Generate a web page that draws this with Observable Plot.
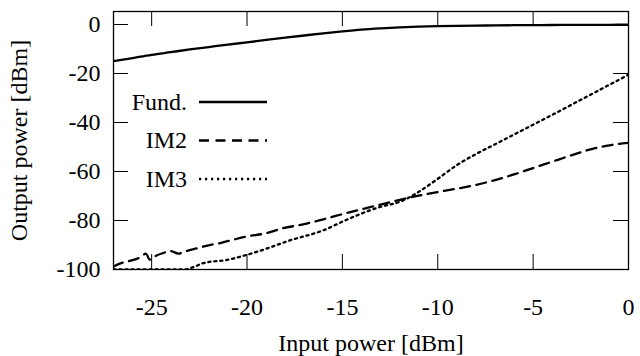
<!DOCTYPE html>
<html>
<head>
<meta charset="utf-8">
<script src="https://cdn.jsdelivr.net/npm/d3@7"></script>
<script src="https://cdn.jsdelivr.net/npm/@observablehq/plot@0.6"></script>
<style>
  html, body { margin: 0; padding: 0; background: #fff; }
  #chart { width: 640px; height: 356px; }
  #chart svg, #chart svg text { font-family: "Liberation Serif", "Times New Roman", serif !important; }
</style>
</head>
<body>
<div id="chart"></div>
<script>
// ---- data ----
const fundX = [-27,-26,-25,-24,-23,-22,-21,-20,-19,-18,-17,-16,-15,-14,-13,-12,-11,-10,-9,-8,-7,-6,-5,-4,-3,-2,-1,0];
const fundY = [-15.0,-13.7,-12.4,-11.3,-10.2,-9.2,-8.2,-7.3,-6.3,-5.4,-4.5,-3.6,-2.8,-2.1,-1.6,-1.2,-0.9,-0.7,-0.55,-0.45,-0.38,-0.3,-0.25,-0.2,-0.17,-0.14,-0.12,-0.1];

const im2X = [-27,-26.6,-26.1,-25.6,-25.3,-25.1,-24.8,-24.4,-24.0,-23.6,-23.2,-22.6,-21.9,-21.4,-20.7,-20,-19,-18.2,-17,-16,-14.75,-13,-11.4,-10,-9,-8,-7,-6,-5,-4,-3,-2,-1,0];
const im2Y = [-98.8,-97.4,-96.4,-95,-93.5,-96,-94.5,-93.3,-92.5,-93.5,-92.5,-91.3,-89.9,-89.2,-87.8,-86.5,-85.2,-83.3,-81.5,-79.5,-76.9,-73.5,-70.5,-68.4,-67.0,-65.5,-63.5,-61.2,-58.6,-56.0,-53.4,-51.0,-49.3,-48.3];

const im3X = [-27,-26,-25,-24,-23.3,-22.8,-22.3,-21,-20,-18.9,-17.9,-16,-14.75,-13,-12,-11.5,-11,-10,-9,-8,-7,-6,-5,-4,-3,-2,-1,0];
const im3Y = [-100,-100,-100,-100,-100,-99,-97.4,-96,-94,-91.3,-88.5,-84,-79.6,-74.4,-72.4,-70.6,-68.3,-63.0,-57.4,-52.9,-48.9,-44.9,-40.9,-36.9,-32.8,-28.7,-24.6,-20.5];

const xTicks = [-25,-20,-15,-10,-5,0];
const yTicks = [0,-20,-40,-60,-80,-100];
const xInnerTicks = [-25,-20,-15,-10,-5];
const yInnerTicks = [0,-20,-40,-60,-80];

const seriesNames = ["Fund.","IM2","IM3"];
const xLabel = "Input power [dBm]";
const yLabel = "Output power [dBm]";

const toRows = (xs, ys) => xs.map((x, i) => ({x, y: ys[i]}));
const fund = toRows(fundX, fundY);
const im2 = toRows(im2X, im2Y);
const im3 = toRows(im3X, im3Y);

// ---- layout ----
const W = 640, H = 356;
const mL = 113, mR = 12, mT = 11, mB = 87;
const innerW = W - mL - mR, innerH = H - mT - mB;
const tick = 15;
const FONT = "'Liberation Serif', 'Times New Roman', serif";
const FS = 24;
const fmt = d => String(d);

const dashes = ["none", "10,6.5", "2.2,3.8"];

const plot = Plot.plot({
  width: W, height: H,
  marginLeft: mL, marginRight: mR, marginTop: mT, marginBottom: mB,
  style: {fontFamily: FONT, fontSize: FS + "px", color: "#000", background: "#fff"},
  x: {domain: [-27, 0]},
  y: {domain: [-100, 5.3]},
  marks: [
    Plot.ruleX(xInnerTicks, {stroke: "#000", strokeWidth: 1, insetTop: innerH - tick}),
    Plot.ruleX(xInnerTicks, {stroke: "#000", strokeWidth: 1, insetBottom: innerH - tick}),
    Plot.ruleY(yInnerTicks, {stroke: "#000", strokeWidth: 1, insetRight: innerW - tick}),
    Plot.ruleY(yInnerTicks.slice(1), {stroke: "#000", strokeWidth: 1, insetLeft: innerW - tick}),
    Plot.line(fund, {x: "x", y: "y", stroke: "#000", strokeWidth: 2.3, curve: "monotone-x", clip: true}),
    Plot.line(im2, {x: "x", y: "y", stroke: "#000", strokeWidth: 2.3, strokeDasharray: dashes[1], curve: "monotone-x", clip: true}),
    Plot.line(im3, {x: "x", y: "y", stroke: "#000", strokeWidth: 2.3, strokeDasharray: dashes[2], curve: "monotone-x", clip: true}),
    Plot.frame({stroke: "#000", strokeWidth: 1.3}),
    Plot.axisX({ticks: xTicks, tickSize: 0, tickPadding: 28, tickFormat: fmt, fontSize: FS, label: null}),
    Plot.axisY({ticks: yTicks, tickSize: 0, tickPadding: 13, tickFormat: fmt, fontSize: FS, label: null}),
    Plot.text([xLabel], {frameAnchor: "bottom", lineAnchor: "middle", textAnchor: "middle", dy: 74, fontSize: FS, fill: "#000"}),
    Plot.text([yLabel], {frameAnchor: "left", lineAnchor: "middle", textAnchor: "middle", dx: -94, rotate: -90, fontSize: FS, fill: "#000"})
  ]
});

document.getElementById("chart").appendChild(plot);

// ---- legend (inside plot area) ----
const svg = d3.select(plot);
const lg = svg.append("g").attr("font-family", FONT).attr("font-size", FS);
const legTextRight = 187, legX1 = 199, legX2 = 267, legY0 = 102, legStep = 38.5;
seriesNames.forEach((name, i) => {
  const y = legY0 + i * legStep;
  lg.append("text").attr("x", legTextRight).attr("y", y).attr("dy", "0.32em")
    .attr("text-anchor", "end").attr("fill", "#000").text(name);
  lg.append("line").attr("x1", legX1).attr("x2", legX2).attr("y1", y).attr("y2", y)
    .attr("stroke", "#000").attr("stroke-width", 2.3)
    .attr("stroke-dasharray", dashes[i]);
});
</script>
</body>
</html>
